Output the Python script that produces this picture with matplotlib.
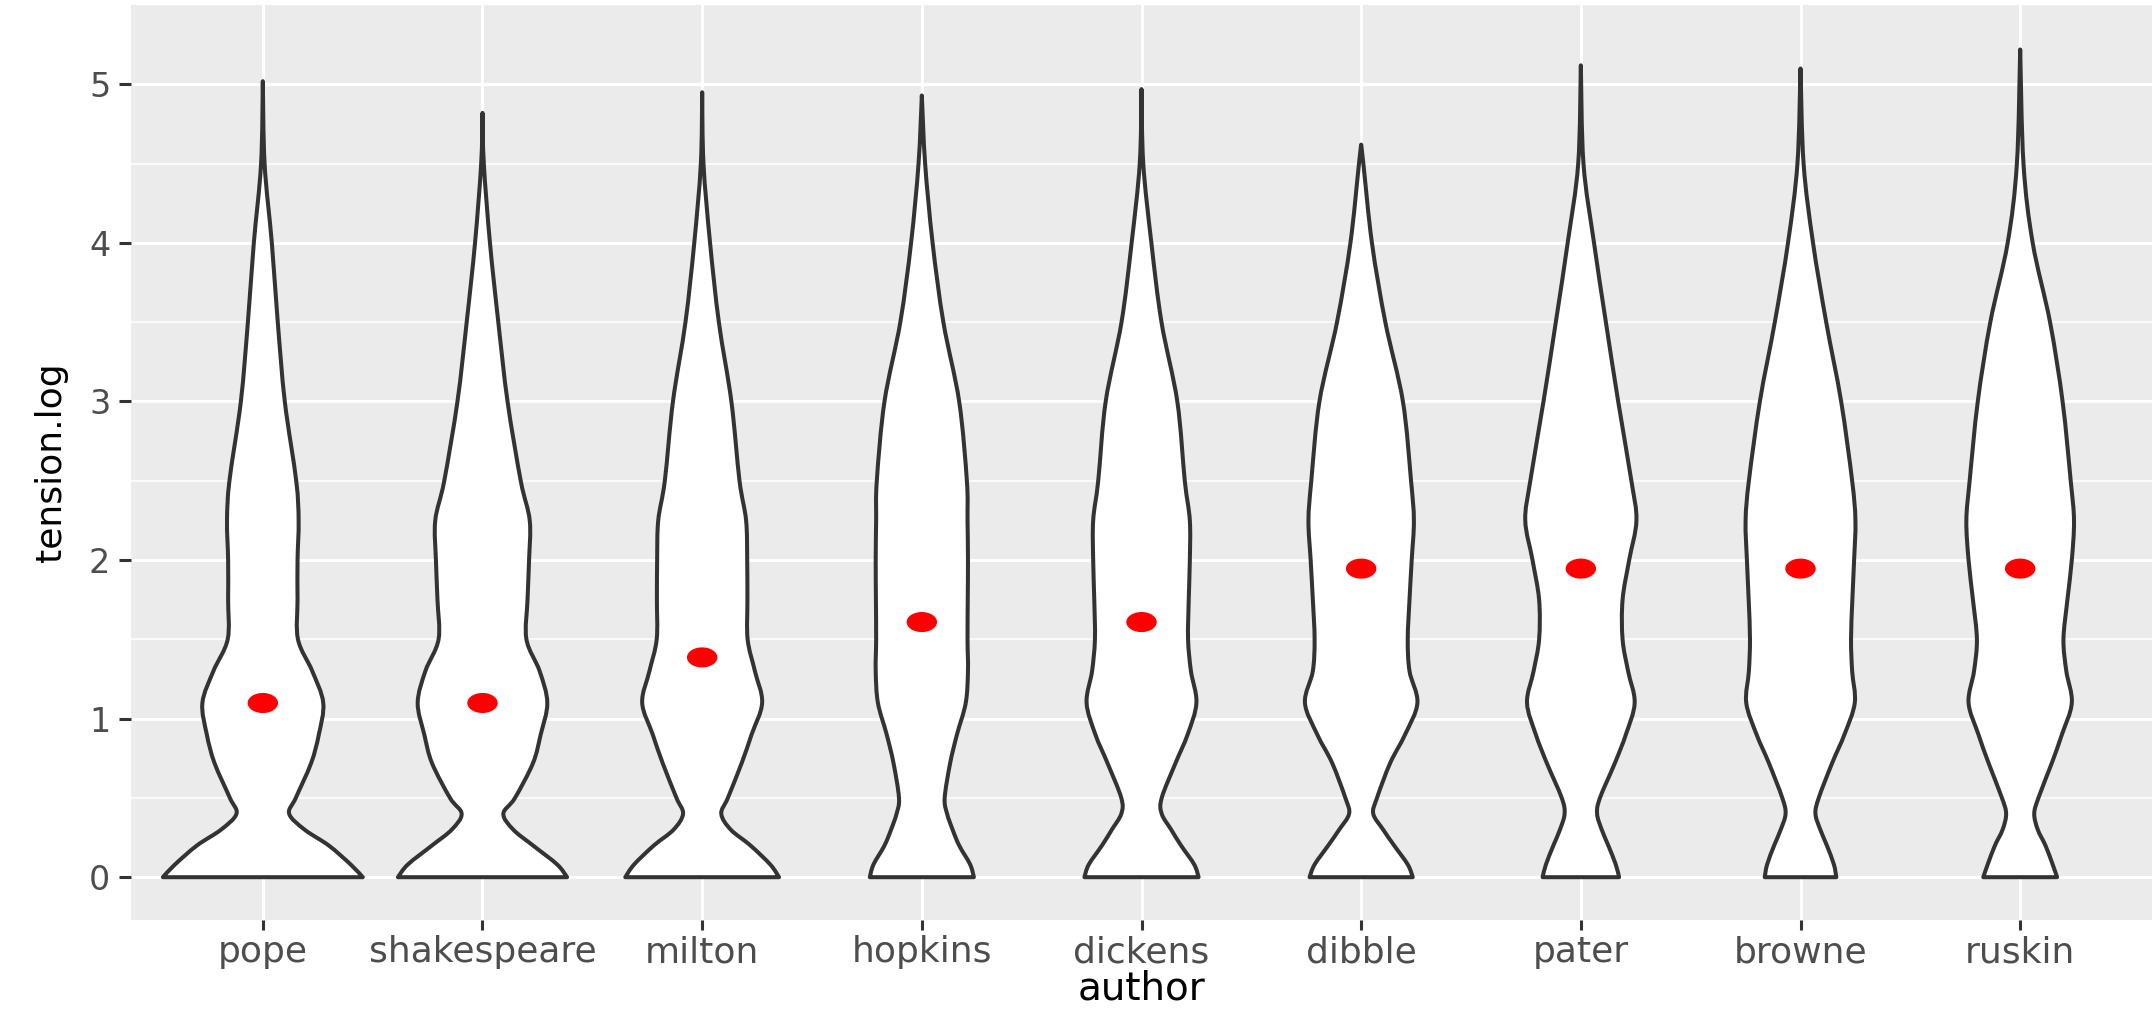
import numpy as np
import matplotlib.pyplot as plt
from matplotlib.path import Path
from matplotlib.patches import PathPatch

plt.rcParams['font.family'] = ['DejaVu Sans']

# 作者和中位数 (log tension)
authors = ["pope", "shakespeare", "milton", "hopkins", "dickens",
           "dibble", "pater", "browne", "ruskin"]
medians = [1.0986, 1.0986, 1.386, 1.609, 1.609, 1.946, 1.946, 1.946, 1.946]
tops = [5.02, 4.82, 4.95, 4.93, 4.97, 4.62, 5.12, 5.10, 5.22]

# 小提琴轮廓: 每个高度上的半宽 (x 轴单位)
levels = [0, 0.08, 0.2, 0.3, 0.4, 0.5, 0.72, 0.9, 1.1, 1.3, 1.5, 1.75,
          2.0, 2.25, 2.5, 3.0, 3.5, 4.0, 4.5]
pope_w = [0.455, 0.40, 0.30, 0.19, 0.12, 0.15, 0.22, 0.255, 0.275, 0.225,
          0.16, 0.158, 0.158, 0.163, 0.152, 0.10, 0.068, 0.041, 0.008]
shakespeare_w = [0.385, 0.34, 0.23, 0.14, 0.095, 0.148, 0.23, 0.265, 0.295,
                 0.26, 0.20, 0.205, 0.212, 0.215, 0.174, 0.114, 0.072,
                 0.034, 0.006]
milton_w = [0.35, 0.31, 0.22, 0.13, 0.087, 0.117, 0.18, 0.225, 0.273, 0.24,
            0.207, 0.206, 0.205, 0.20, 0.17, 0.133, 0.076, 0.036, 0.006]
hopkins_w = [0.237, 0.22, 0.17, 0.14, 0.115, 0.104, 0.129, 0.16, 0.20, 0.21,
             0.208, 0.209, 0.21, 0.208, 0.205, 0.17, 0.098, 0.049, 0.015]
dickens_w = [0.26, 0.24, 0.18, 0.135, 0.092, 0.092, 0.155, 0.21, 0.25, 0.225,
             0.212, 0.215, 0.22, 0.22, 0.197, 0.163, 0.091, 0.045, 0.008]
dibble_w = [0.235, 0.212, 0.15, 0.10, 0.055, 0.072, 0.132, 0.20, 0.256, 0.22,
            0.212, 0.22, 0.23, 0.24, 0.227, 0.19, 0.11, 0.049, 0.010]
pater_w = [0.174, 0.159, 0.125, 0.095, 0.074, 0.087, 0.155, 0.205, 0.245,
           0.215, 0.19, 0.19, 0.22, 0.253, 0.23, 0.17, 0.114, 0.06, 0.012]
browne_w = [0.163, 0.152, 0.12, 0.09, 0.068, 0.083, 0.144, 0.20, 0.247,
            0.235, 0.23, 0.236, 0.244, 0.25, 0.235, 0.185, 0.117, 0.057, 0.014]
ruskin_w = [0.168, 0.148, 0.115, 0.08, 0.064, 0.083, 0.144, 0.19, 0.235,
            0.21, 0.197, 0.215, 0.235, 0.245, 0.23, 0.193, 0.136, 0.057, 0.015]
widths = [pope_w, shakespeare_w, milton_w, hopkins_w, dickens_w,
          dibble_w, pater_w, browne_w, ruskin_w]


def smooth_side(pts):
    # Catmull-Rom -> 三次贝塞尔
    verts, codes = [], []
    n = len(pts)
    for i in range(n - 1):
        p0 = pts[max(i - 1, 0)]
        p1 = pts[i]
        p2 = pts[i + 1]
        p3 = pts[min(i + 2, n - 1)]
        c1 = p1 + (p2 - p0) / 6
        c2 = p2 - (p3 - p1) / 6
        verts += [c1, c2, p2]
        codes += [Path.CURVE4] * 3
    return verts, codes


def violin_path(x, w, top):
    ys = np.array(levels + [top])
    hw = np.array(w + [0.0])
    right = np.column_stack([x + hw, ys])
    left = np.column_stack([x - hw, ys])[::-1]
    verts = [right[0]]
    codes = [Path.MOVETO]
    v, c = smooth_side(right)
    verts += v
    codes += c
    v, c = smooth_side(left)
    verts += v
    codes += c
    verts.append(right[0])
    codes.append(Path.CLOSEPOLY)
    return Path(verts, codes)


fig = plt.figure(figsize=(21.55, 10.13), dpi=100)
ax = fig.add_axes([0.0608, 0.0918, 0.9378, 0.9032])
ax.set_facecolor("#EBEBEB")
for s in ax.spines.values():
    s.set_visible(False)

xpos = np.arange(1, len(authors) + 1)

# 网格线
for yv in np.arange(0.5, 5.5, 1.0):
    ax.axhline(yv, color="white", lw=1.1, zorder=0)
for yv in range(0, 6):
    ax.axhline(yv, color="white", lw=2.1, zorder=0)
for xv in xpos:
    ax.axvline(xv, color="white", lw=2.1, zorder=0)

for xv, w, top in zip(xpos, widths, tops):
    patch = PathPatch(violin_path(xv, w, top), facecolor="white",
                      edgecolor="#333333", lw=2.9, zorder=2,
                      joinstyle="round")
    ax.add_patch(patch)

# 中位数红点 (椭圆标记)
t = np.linspace(0, 2 * np.pi, 60)
ellipse = np.column_stack([np.cos(t), 0.66 * np.sin(t)])
ax.scatter(xpos, medians, marker=ellipse, s=480, color="red",
           edgecolors="none", zorder=3)

ax.set_xlim(0.4, 9.6)
ax.set_ylim(-0.27, 5.50)
ax.set_xticks(xpos)
ax.set_xticklabels(authors)
ax.set_yticks(range(0, 6))
ax.tick_params(axis="both", colors="#333333", labelcolor="#4D4D4D",
               width=2.2)
ax.tick_params(axis="y", length=9, pad=6, labelsize=24)
ax.tick_params(axis="x", length=7, pad=4, labelsize=26)

ax.set_ylabel("tension.log", fontsize=26, color="black")
ax.yaxis.set_label_coords(-0.031, 0.5)
ax.set_xlabel("author", fontsize=28, color="black")
ax.xaxis.set_label_coords(0.5, -0.054)

plt.savefig("out.png", dpi=100)
